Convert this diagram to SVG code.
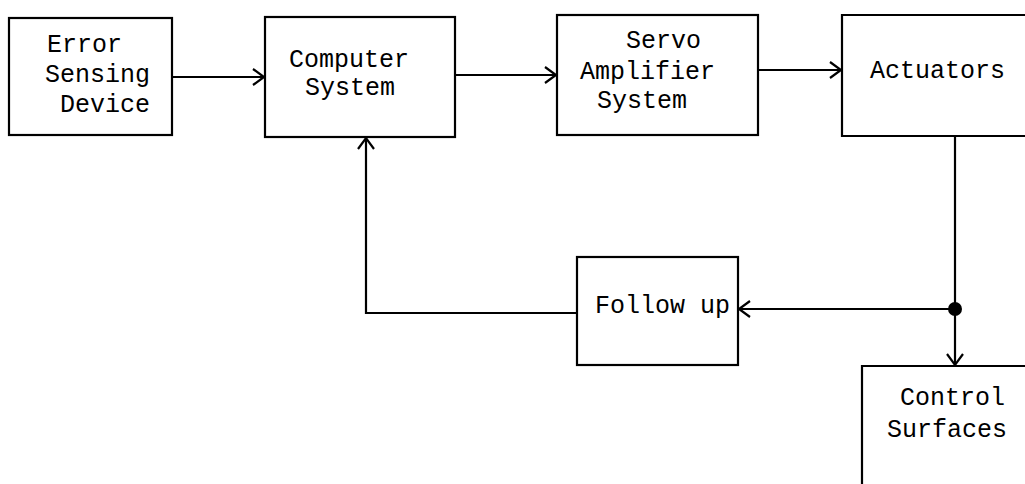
<svg xmlns="http://www.w3.org/2000/svg" width="1025" height="484" viewBox="0 0 1025 484">
<style>
.box{fill:none;stroke:#000;stroke-width:2.2}
.ln{fill:none;stroke:#000;stroke-width:2.2}
.ah{fill:none;stroke:#000;stroke-width:2.2;stroke-linejoin:miter}
text{font-family:"Liberation Mono","DejaVu Sans Mono",monospace;font-size:25px;fill:#000}
</style>
<rect width="1025" height="484" fill="#fff"/>
<g id="error-sensing-device">
<rect class="box" x="9" y="18" width="163" height="117"/>
<text x="47" y="52">Error</text>
<text x="45" y="82">Sensing</text>
<text x="60" y="112">Device</text>
</g>
<g id="computer-system">
<rect class="box" x="265" y="17" width="190" height="120"/>
<text x="289" y="67">Computer</text>
<text x="305" y="95">System</text>
</g>
<g id="servo-amplifier-system">
<rect class="box" x="557" y="15" width="201" height="120"/>
<text x="626" y="48">Servo</text>
<text x="580" y="79">Amplifier</text>
<text x="597" y="108">System</text>
</g>
<g id="actuators">
<path class="box" d="M1030,15 H842 V136 H1030"/>
<text x="870" y="78">Actuators</text>
</g>
<g id="follow-up">
<rect class="box" x="577" y="257" width="161" height="108"/>
<text x="595" y="313">Follow up</text>
</g>
<g id="control-surfaces">
<path class="box" d="M1030,366 H862 V490"/>
<text x="900" y="405">Control</text>
<text x="887" y="437">Surfaces</text>
</g>
<g id="connectors">
<line class="ln" x1="172" y1="77" x2="264" y2="77"/>
<path class="ah" d="M253,69 L264,77 L253,85"/>
<line class="ln" x1="455" y1="75" x2="556" y2="75"/>
<path class="ah" d="M545,67 L556,75 L545,83"/>
<line class="ln" x1="758" y1="70" x2="841" y2="70"/>
<path class="ah" d="M830,62 L841,70 L830,78"/>
<line class="ln" x1="955" y1="136" x2="955" y2="365"/>
<path class="ah" d="M947,354 L955,365 L963,354"/>
<line class="ln" x1="955" y1="309" x2="739" y2="309"/>
<path class="ah" d="M750,301 L739,309 L750,317"/>
<circle cx="955" cy="309" r="7" fill="#000"/>
<path class="ln" d="M577,313 H366 V138"/>
<path class="ah" d="M358,149 L366,138 L374,149"/>
</g>
</svg>
